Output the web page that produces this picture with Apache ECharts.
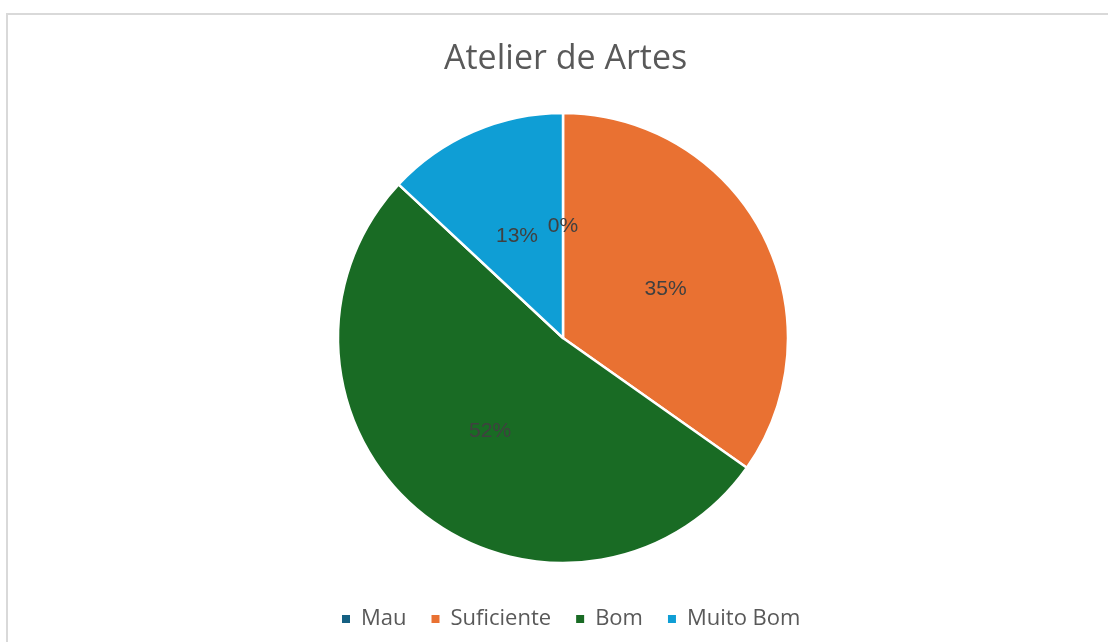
<!DOCTYPE html>
<html>
<head>
<meta charset="utf-8">
<script src="https://cdn.jsdelivr.net/npm/echarts@6/dist/echarts.min.js"></script>
<style>
html,body{margin:0;padding:0;background:#fff;}
#chart{width:1108px;height:642px;}
</style>
</head>
<body>
<div id="chart"></div>
<script>
const title = 'Atelier de Artes';
const categories = ['Mau', 'Suficiente', 'Bom', 'Muito Bom'];
const values = [0, 8, 12, 3];
const colors = ['#156082', '#E97132', '#196B24', '#0F9ED5'];

const chart = echarts.init(document.getElementById('chart'), null, {renderer: 'canvas'});
const fontFam = '"Open Sans", "Noto Sans", sans-serif';
chart.setOption({
  animation: false,
  backgroundColor: '#fff',
  color: colors,
  title: {
    text: title,
    left: 444,
    top: 42,
    padding: 0,
    textStyle: {fontFamily: fontFam, fontSize: 34, fontWeight: 'normal', color: '#595959'}
  },
  legend: {
    bottom: 12,
    left: 340,
    padding: 0,
    icon: 'rect',
    itemWidth: 10,
    itemHeight: 10,
    itemGap: 23,
    data: categories,
    textStyle: {fontFamily: fontFam, fontSize: 22, color: '#595959', padding: [0, 0, 0, 5]}
  },
  graphic: [{
    type: 'rect',
    shape: {x: 7, y: 14, width: 1200, height: 700},
    style: {fill: 'none', stroke: '#d9d9d9', lineWidth: 2},
    silent: true
  }],
  series: [{
    type: 'pie',
    center: [563, 338],
    radius: 225,
    startAngle: 90,
    clockwise: true,
    avoidLabelOverlap: false,
    itemStyle: {borderColor: '#fff', borderWidth: 2.5},
    label: {
      position: 'inside',
      formatter: function (p) { return Math.round(p.percent) + '%'; },
      fontFamily: '"Liberation Sans", Arial, sans-serif',
      fontSize: 21,
      color: '#404040',
      offset: [0, 4]
    },
    labelLine: {show: false},
    data: categories.map((c, i) => ({name: c, value: values[i]}))
  }]
});
</script>
</body>
</html>
